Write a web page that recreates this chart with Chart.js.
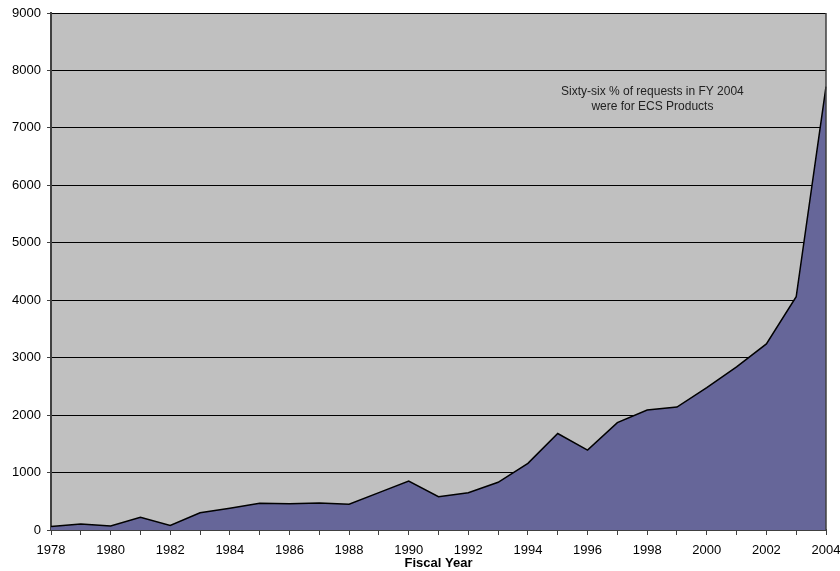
<!DOCTYPE html>
<html>
<head>
<meta charset="utf-8">
<script src="https://cdn.jsdelivr.net/npm/chart.js@4/dist/chart.umd.min.js"></script>
<style>
  html, body { margin: 0; padding: 0; background: #fff; }
  #wrap { width: 840px; height: 571px; }
</style>
</head>
<body>
<div id="wrap"><canvas id="chart" width="840" height="571"></canvas></div>
<script>
const years = [1978, 1979, 1980, 1981, 1982, 1983, 1984, 1985, 1986, 1987, 1988, 1989, 1990,
  1991, 1992, 1993, 1994, 1995, 1996, 1997, 1998, 1999, 2000, 2001, 2002, 2003, 2004];
const requests = [60, 105, 70, 220, 80, 300, 380, 465, 455, 470, 450, 650, 850,
  580, 650, 830, 1160, 1680, 1390, 1870, 2090, 2140, 2480, 2840, 3240, 4060, 7720];
const noteLines = ['Sixty-six % of requests in FY 2004', 'were for ECS Products'];

const FONT = 'Arial, "Liberation Sans", sans-serif';

// gray plot background + right border + note text
const plotDecor = {
  id: 'plotDecor',
  beforeDraw(chart) {
    const { ctx, chartArea } = chart;
    ctx.save();
    ctx.fillStyle = '#c0c0c0';
    ctx.fillRect(chartArea.left, chartArea.top, chartArea.right - chartArea.left, chartArea.bottom - chartArea.top);
    ctx.restore();
  },
  afterDraw(chart) {
    const { ctx, chartArea } = chart;
    ctx.save();
    ctx.strokeStyle = '#404040';
    ctx.lineWidth = 1.5;
    ctx.beginPath();
    ctx.moveTo(chartArea.right, chartArea.top);
    ctx.lineTo(chartArea.right, chartArea.bottom);
    ctx.stroke();

    ctx.fillStyle = '#222';
    ctx.font = '12px ' + FONT;
    ctx.textAlign = 'center';
    ctx.textBaseline = 'middle';
    const cx = chartArea.left + (chartArea.right - chartArea.left) * 0.776;
    noteLines.forEach((t, i) => ctx.fillText(t, cx, chartArea.top + 79 + i * 15));
    ctx.restore();
  }
};

new Chart(document.getElementById('chart').getContext('2d'), {
  type: 'line',
  data: {
    labels: years,
    datasets: [{
      data: requests,
      borderColor: '#000',
      borderWidth: 1.5,
      backgroundColor: '#666699',
      fill: 'origin',
      tension: 0,
      pointRadius: 0
    }]
  },
  options: {
    responsive: false,
    animation: false,
    layout: { padding: { left: 0, right: 14, top: 13, bottom: 0 } },
    plugins: { legend: { display: false }, tooltip: { enabled: false } },
    scales: {
      x: {
        type: 'category',
        offset: false,
        grid: { drawOnChartArea: false, drawTicks: true, tickLength: 5, color: '#404040' },
        border: { color: '#404040', width: 2 },
        ticks: {
          autoSkip: false,
          maxRotation: 0,
          color: '#000',
          font: { family: FONT, size: 13 },
          padding: 8,
          callback: function (v, i) { return years[i] % 2 === 0 ? years[i] : ''; }
        },
        title: {
          display: true,
          text: 'Fiscal Year',
          color: '#000',
          font: { family: FONT, size: 13, weight: 'bold' },
          padding: { top: -6, bottom: 0 }
        },
        afterFit(scale) { scale.height = 41; scale.paddingLeft = 0; scale.paddingRight = 0; }
      },
      y: {
        min: 0,
        max: 9000,
        ticks: {
          stepSize: 1000,
          color: '#000',
          font: { family: FONT, size: 13 },
          padding: 6,
          callback: v => String(v)
        },
        grid: { color: '#000', lineWidth: 1, tickLength: 4, tickColor: '#404040' },
        border: { color: '#404040', width: 2 },
        afterFit(scale) { scale.width = 51; scale.paddingTop = 0; scale.paddingBottom = 0; }
      }
    }
  },
  plugins: [plotDecor]
});
</script>
</body>
</html>
